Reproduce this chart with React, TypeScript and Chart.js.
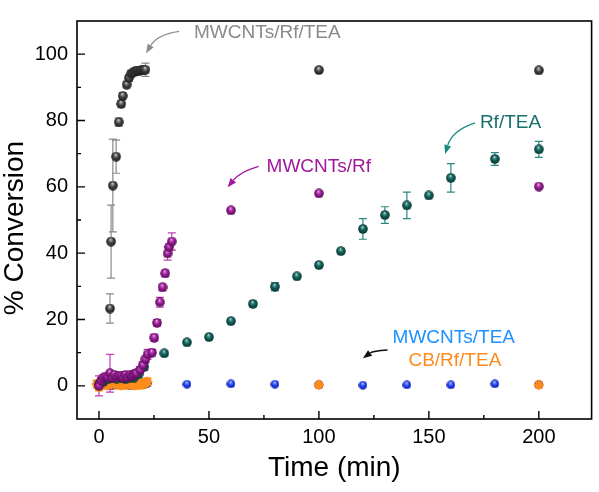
import React, { useEffect, useRef } from 'react';
import { Chart, registerables } from 'chart.js';

Chart.register(...registerables);

const FONT = "'Liberation Sans', Arial, sans-serif";

// ---- data ----
const grayTime = [5, 5.5, 6.3, 7.8, 9, 10.1, 10.8, 12.6, 13.6, 14.6, 15.6, 16.6, 17.5, 18.4, 19.3, 20.2, 21.1, 100, 200];
const grayConv = [23.3, 43.5, 60.4, 69.1, 79.5, 85, 87.4, 90.8, 92.8, 94.1, 94.5, 94.8, 95, 95, 95.2, 95.3, 95.3, 95.2, 95.1];
const grayErr = [4.4, 11, 14, 5, 1.2, 1, 1, 1, 1, 1, 1, 1, 1, 1, 1, 1, 2, 0, 0];

const magentaTime = [0, 1, 2, 3, 4, 5, 6, 7, 8, 9, 10, 11, 12, 13, 14, 15, 16, 17, 18.7, 19.9, 21.1, 22.1, 24.1, 25.1, 26.4, 27.7, 28.9, 30.1, 31.2, 31.9, 33.1, 60, 100, 200];
const magentaConv = [0, 1.5, 2.4, 2.8, 2.6, 3.8, 2.5, 3.3, 2.6, 3, 2.9, 2.5, 3.3, 2.6, 3.3, 3, 3.5, 3.8, 4.8, 6.2, 8, 9.5, 10, 14.5, 19, 25.2, 29.7, 33.9, 39.9, 41.8, 43.5, 52.9, 58, 60.1];
const magentaErr = [3, 1, 1, 1, 1, 5.7, 1, 1, 1, 1, 1, 1, 1, 1, 1, 1, 1, 1, 1, 1, 1, 1.5, 1, 1, 1, 1.5, 1, 1, 2, 1, 2.6, 0, 0, 0];

const tealTime = [0, 2, 4, 6, 8, 10, 12, 14, 16, 18, 20.6, 29.7, 40, 50, 60, 70, 80, 90, 100, 110, 120, 130, 140, 150, 160, 180, 200];
const tealConv = [0.5, 1.2, 2, 2.5, 2.2, 2.5, 2, 2.4, 2.5, 3.5, 5.7, 9.8, 13.1, 14.7, 19.5, 24.7, 29.9, 33, 36.4, 40.6, 47.3, 51.5, 54.4, 57.4, 62.7, 68.4, 71.3];
const tealErr = [1, 1, 1, 1, 1, 1, 1, 1, 1, 1, 1, 0, 0, 0, 0, 0.8, 1.2, 0, 0, 0, 3.1, 2.5, 4, 0, 4.3, 1.9, 2.4];

const blueTime = [0, 2, 4, 6, 8, 10, 12, 14, 16, 18, 20, 22, 40, 60, 80, 100, 120, 140, 160, 180, 200];
const blueConv = [0, 0.3, 0.5, 0.2, 0.4, 0.3, 0.5, 0.2, 0.4, 0.6, 0.5, 0.8, 0.5, 0.6, 0.5, 0.3, 0.2, 0.3, 0.3, 0.6, 0.4];

const orangeTime = [-1, 0, 1, 2, 3, 4, 5, 6, 7, 8, 9, 10, 11, 12, 13, 14, 15, 16, 17, 18, 19, 20, 21, 22, 100, 200];
const orangeConv = [0.5, -0.3, 1.2, 0.3, 1.5, 0.2, 0.9, 1.4, 0.3, 1.1, 0.7, 0.2, 1.3, 0.3, 1.2, 0.4, 0.9, 0.2, 1.1, 0.3, 0.8, 0.4, 0.9, 1.2, 0.3, 0.3];
const orangeErr = [1.2, 1.2, 1.2, 1.2, 1.2, 1.2, 1.2, 1.2, 1.2, 1.2, 1.2, 1.2, 1.2, 1.2, 1.2, 1.2, 1.2, 1.2, 1.2, 1.2, 1.2, 1.2, 1.2, 1.2, 0, 0];

const xTickValues = [0, 50, 100, 150, 200];
const xMinorValues = [25, 75, 125, 175];
const yTickValues = [0, 20, 40, 60, 80, 100];
const yMinorValues = [10, 30, 50, 70, 90];

const seriesLabels = ['MWCNTs/Rf', 'Rf/TEA', 'MWCNTs/Rf/TEA', 'CB/Rf/TEA', 'MWCNTs/TEA'];

// annotation labels (data coordinates)
const labelTexts = [
  { text: 'MWCNTs/Rf/TEA', x: 43.2, y: 106.4, color: '#8a8a8a' },
  { text: 'MWCNTs/Rf', x: 76.2, y: 65.9, color: '#a0189a' },
  { text: 'Rf/TEA', x: 173.2, y: 79.3, color: '#17716b' },
  { text: 'MWCNTs/TEA', x: 133.5, y: 14.5, color: '#1e90ff' },
  { text: 'CB/Rf/TEA', x: 140.7, y: 7.7, color: '#ff8a1e' },
];
const labelArrows = [
  { from: [36.5, 106.9], ctrl: [26.6, 106], to: [21.4, 100.3], color: '#8c8c8c' },
  { from: [72.6, 66.2], ctrl: [64.3, 64.6], to: [58.5, 59.9], color: '#a0189a' },
  { from: [171, 79.3], ctrl: [160.6, 77], to: [157.4, 69.9], color: '#1a8a80' },
  { from: [131.2, 10.8], ctrl: [124.5, 10.5], to: [120, 8.3], color: '#111111' },
];

function pts(xs: number[], ys: number[]) {
  return xs.map((x, i) => ({ x, y: ys[i] }));
}

function sphere(light: string, base: string, dark: string, d: number) {
  const c = document.createElement('canvas');
  c.width = d;
  c.height = d;
  const g = c.getContext('2d')!;
  const r = d / 2;
  const grad = g.createRadialGradient(r * 0.9, r * 0.55, 0, r, r, r);
  grad.addColorStop(0, '#ffffff');
  grad.addColorStop(0.18, light);
  grad.addColorStop(0.55, base);
  grad.addColorStop(1, dark);
  g.fillStyle = grad;
  g.beginPath();
  g.arc(r, r, r - 0.2, 0, Math.PI * 2);
  g.fill();
  return c;
}

const errorBarPlugin = {
  id: 'errorBars',
  beforeDatasetsDraw(chart: any) {
    const ctx = chart.ctx;
    const xs = chart.scales.x;
    const ys = chart.scales.y;
    const dsets = chart.data.datasets;
    for (let i = dsets.length - 1; i >= 0; i--) {
      const ds: any = dsets[i];
      if (!ds.errors) continue;
      ctx.save();
      ctx.strokeStyle = ds.errorColor;
      ctx.lineWidth = 1.2;
      ds.data.forEach((p: any, j: number) => {
        const e = ds.errors[j];
        if (!e) return;
        const px = xs.getPixelForValue(p.x);
        const y1 = ys.getPixelForValue(p.y + e);
        const y2 = ys.getPixelForValue(p.y - e);
        ctx.beginPath();
        ctx.moveTo(px, y1);
        ctx.lineTo(px, y2);
        ctx.moveTo(px - 4, y1);
        ctx.lineTo(px + 4, y1);
        ctx.moveTo(px - 4, y2);
        ctx.lineTo(px + 4, y2);
        ctx.stroke();
      });
      ctx.restore();
    }
  },
};

const framePlugin = {
  id: 'frame',
  afterDatasetsDraw(chart: any) {
    const ctx = chart.ctx;
    const a = chart.chartArea;
    const xs = chart.scales.x;
    const ys = chart.scales.y;
    ctx.save();
    ctx.strokeStyle = '#000';
    ctx.lineWidth = 1.6;
    ctx.strokeRect(a.left, a.top, a.right - a.left, a.bottom - a.top);
    ctx.lineWidth = 1.4;
    ctx.beginPath();
    xTickValues.forEach((v) => {
      const p = xs.getPixelForValue(v);
      ctx.moveTo(p, a.bottom);
      ctx.lineTo(p, a.bottom - 8);
    });
    xMinorValues.forEach((v) => {
      const p = xs.getPixelForValue(v);
      ctx.moveTo(p, a.bottom);
      ctx.lineTo(p, a.bottom - 4);
    });
    yTickValues.forEach((v) => {
      const p = ys.getPixelForValue(v);
      ctx.moveTo(a.left, p);
      ctx.lineTo(a.left + 8, p);
    });
    yMinorValues.forEach((v) => {
      const p = ys.getPixelForValue(v);
      ctx.moveTo(a.left, p);
      ctx.lineTo(a.left + 4, p);
    });
    ctx.stroke();
    ctx.restore();
  },
  afterDraw(chart: any) {
    const ctx = chart.ctx;
    const xs = chart.scales.x;
    const ys = chart.scales.y;
    const a = chart.chartArea;
    ctx.save();
    // axis titles
    ctx.fillStyle = '#000';
    ctx.font = `28px ${FONT}`;
    ctx.textAlign = 'center';
    ctx.textBaseline = 'middle';
    ctx.fillText('Time (min)', (a.left + a.right) / 2, 468);
    ctx.save();
    ctx.translate(15, 228);
    ctx.rotate(-Math.PI / 2);
    ctx.fillText('% Conversion', 0, 0);
    ctx.restore();

    // annotation labels
    ctx.font = `19px ${FONT}`;
    ctx.textAlign = 'left';
    labelTexts.forEach((l) => {
      ctx.fillStyle = l.color;
      ctx.fillText(l.text, xs.getPixelForValue(l.x), ys.getPixelForValue(l.y));
    });
    // arrows
    labelArrows.forEach((ar) => {
      const sx = xs.getPixelForValue(ar.from[0]);
      const sy = ys.getPixelForValue(ar.from[1]);
      const cx = xs.getPixelForValue(ar.ctrl[0]);
      const cy = ys.getPixelForValue(ar.ctrl[1]);
      const tx = xs.getPixelForValue(ar.to[0]);
      const ty = ys.getPixelForValue(ar.to[1]);
      const ang = Math.atan2(ty - cy, tx - cx);
      const hl = 9;
      const hw = 3.5;
      const bx = tx - hl * Math.cos(ang);
      const by = ty - hl * Math.sin(ang);
      ctx.strokeStyle = ar.color;
      ctx.fillStyle = ar.color;
      ctx.lineWidth = 1.3;
      ctx.beginPath();
      ctx.moveTo(sx, sy);
      ctx.quadraticCurveTo(cx, cy, bx, by);
      ctx.stroke();
      ctx.beginPath();
      ctx.moveTo(tx, ty);
      ctx.lineTo(bx + hw * Math.sin(ang), by - hw * Math.cos(ang));
      ctx.lineTo(bx - hw * Math.sin(ang), by + hw * Math.cos(ang));
      ctx.closePath();
      ctx.fill();
    });
    ctx.restore();
  },
};

export default function App() {
  const ref = useRef<HTMLCanvasElement | null>(null);
  useEffect(() => {
    if (!ref.current) return;
    const graySphere = sphere('#9a9a9a', '#3e3e3e', '#1a1a1a', 10);
    const magentaSphere = sphere('#d860d0', '#8e1a8c', '#5a0b58', 10);
    const tealSphere = sphere('#5aa39c', '#0f5a54', '#073430', 10);
    const blueSphere = sphere('#7d9bff', '#1d3cf5', '#0a1a9a', 9);
    const chart = new Chart(ref.current, {
      type: 'scatter',
      data: {
        datasets: [
          {
            label: seriesLabels[0],
            data: pts(magentaTime, magentaConv),
            pointStyle: magentaSphere as any,
            errors: magentaErr,
            errorColor: '#c03cb8',
          } as any,
          {
            label: seriesLabels[1],
            data: pts(tealTime, tealConv),
            pointStyle: tealSphere as any,
            errors: tealErr,
            errorColor: '#2a8880',
          } as any,
          {
            label: seriesLabels[2],
            data: pts(grayTime, grayConv),
            pointStyle: graySphere as any,
            errors: grayErr,
            errorColor: '#8a8a8a',
          } as any,
          {
            label: seriesLabels[3],
            data: pts(orangeTime, orangeConv),
            pointStyle: 'star',
            radius: 5,
            borderWidth: 2.4,
            borderColor: '#ff8c1a',
            backgroundColor: '#ff8c1a',
            errors: orangeErr,
            errorColor: '#ff9a30',
          } as any,
          {
            label: seriesLabels[4],
            data: pts(blueTime, blueConv),
            pointStyle: blueSphere as any,
          } as any,
        ],
      },
      options: {
        animation: false,
        responsive: false,
        maintainAspectRatio: false,
        layout: { padding: { top: 1, right: 4, left: 0, bottom: 0 } },
        plugins: { legend: { display: false }, tooltip: { enabled: false } },
        scales: {
          x: {
            type: 'linear',
            min: -10,
            max: 224,
            afterBuildTicks: (s: any) => {
              s.ticks = xTickValues.map((v) => ({ value: v }));
            },
            afterFit: (s: any) => {
              s.height = 73;
            },
            grid: { display: false, drawTicks: false },
            border: { display: false },
            ticks: { font: { size: 20, family: FONT }, color: '#000', padding: 6, maxRotation: 0 },
          },
          y: {
            type: 'linear',
            min: -10,
            max: 110,
            afterBuildTicks: (s: any) => {
              s.ticks = yTickValues.map((v) => ({ value: v }));
            },
            afterFit: (s: any) => {
              s.width = 77;
            },
            grid: { display: false, drawTicks: false },
            border: { display: false },
            ticks: { font: { size: 20, family: FONT }, color: '#000', padding: 9 },
          },
        },
      },
      plugins: [errorBarPlugin, framePlugin],
    });
    return () => chart.destroy();
  }, []);
  return (
    <div style={{ position: 'absolute', left: 0, top: 0, width: 599, height: 492, background: '#fff' }}>
      <canvas ref={ref} width={599} height={492} style={{ display: 'block' }} />
    </div>
  );
}
